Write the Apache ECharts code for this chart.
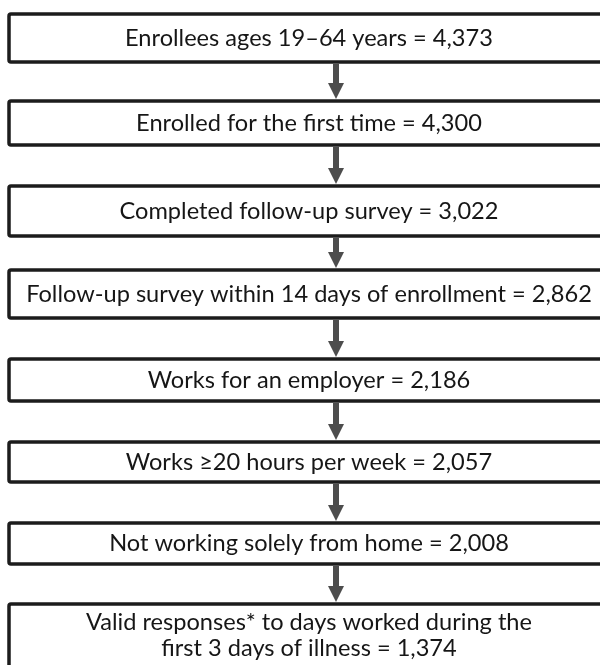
<!DOCTYPE html>
<html>
<head>
<meta charset="utf-8">
<script src="https://cdn.jsdelivr.net/npm/echarts@6/dist/echarts.min.js"></script>
<style>html,body{margin:0;padding:0;background:#fff}#c{width:600px;height:665px}</style>
</head>
<body>
<div id="c"></div>
<script>
// ---- data ----
var steps = [
  "Enrollees ages 19\u201364 years",
  "Enrolled for the first time",
  "Completed follow-up survey",
  "Follow-up survey within 14 days of enrollment",
  "Works for an employer",
  "Works \u226520 hours per week",
  "Not working solely from home",
  "Valid responses* to days worked during the\nfirst 3 days of illness"
];
var counts = [4373, 4300, 3022, 2862, 2186, 2057, 2008, 1374];

// ---- layout (axis units = pixels of the 600x665 canvas) ----
var boxTop    = [14, 101, 186, 270, 359, 442, 523, 604];
var boxBottom = [62, 145, 236, 318, 401, 482, 564, 690];
var boxLeft = 9, boxRight = 606, textX = 309, arrowX = 336;

function fmt(n){ return n.toString().replace(/\B(?=(\d{3})+(?!\d))/g, ","); }

var chart = echarts.init(document.getElementById('c'), null, {renderer:'canvas'});
var data = steps.map(function(s, i){ return [i]; });

chart.setOption({
  animation: false,
  grid: {left:0, right:0, top:0, bottom:0},
  xAxis: {type:'value', min:0, max:600, show:false},
  yAxis: {type:'value', min:0, max:665, inverse:true, show:false},
  series: [{
    type: 'custom',
    data: data,
    renderItem: function(params, api){
      var i = api.value(0);
      var tl = api.coord([boxLeft, boxTop[i]]);
      var br = api.coord([boxRight, boxBottom[i]]);
      var children = [{
        type: 'rect',
        shape: {x: tl[0], y: tl[1], width: br[0]-tl[0], height: br[1]-tl[1], r: 2},
        style: {fill: '#fff', stroke: '#1c1c1c', lineWidth: 3.5}
      }];
      var label = steps[i] + ' = ' + fmt(counts[i]);
      var cx = api.coord([textX, 0])[0];
      var cy = (i === steps.length - 1) ? api.coord([0, 635])[1] : (tl[1] + br[1]) / 2;
      children.push({
        type: 'text',
        style: {
          x: cx, y: cy, text: label,
          align: 'center', verticalAlign: 'middle',
          fontFamily: 'Lato', fontSize: 23.6, lineHeight: 26, fill: '#161616'
        }
      });
      if (i < steps.length - 1) {
        var a0 = api.coord([arrowX, boxBottom[i] + 2]);
        var a1 = api.coord([arrowX, boxTop[i+1] - 2]);
        var headLen = 16, shaftW = 6, headW = 16;
        children.push({
          type: 'rect',
          shape: {x: a0[0]-shaftW/2, y: a0[1], width: shaftW, height: a1[1]-headLen-a0[1]+1},
          style: {fill: '#4d4d4d'}
        });
        children.push({
          type: 'polygon',
          shape: {points: [[a1[0]-headW/2, a1[1]-headLen], [a1[0]+headW/2, a1[1]-headLen], [a1[0], a1[1]]]},
          style: {fill: '#4d4d4d'}
        });
      }
      return {type: 'group', children: children};
    }
  }]
});
</script>
</body>
</html>
